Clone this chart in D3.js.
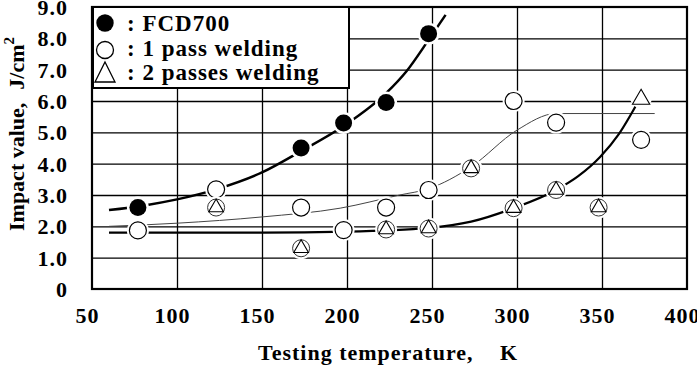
<!DOCTYPE html>
<html>
<head>
<meta charset="utf-8">
<script src="https://cdnjs.cloudflare.com/ajax/libs/d3/7.8.5/d3.min.js"></script>
<style>
  body { margin: 0; background: #fff; }
  text { font-family: "Liberation Serif", "Times New Roman", serif; font-weight: bold; fill: #000; }
</style>
</head>
<body>
<div id="chart"></div>
<script>
// tick values
const xTicks = [50, 100, 150, 200, 250, 300, 350, 400];
const yTicks = [0, 1, 2, 3, 4, 5, 6, 7, 8, 9];

// measured points (temperature K, impact value J/cm2)
const fcdTemp = [77, 173, 198, 223, 248];
const fcdVal = [2.6, 4.5, 5.3, 5.95, 8.15];
const pass1Temp = [77, 123, 173, 198, 223, 248, 273, 298, 323, 373];
const pass1Val = [1.87, 3.18, 2.6, 1.88, 2.6, 3.16, 3.85, 6.0, 5.31, 4.76];
const pass2Temp = [123, 173, 223, 248, 273, 298, 323, 348, 373];
const pass2Val = [2.6, 1.3, 1.9, 1.93, 3.85, 2.58, 3.16, 2.6, 6.12];
const pass2Ringed = [true, true, true, true, true, true, true, true, false];

// hand drawn trend curves
const fcdCurveTemp = [60, 80, 100, 123, 150, 173, 198, 223, 235, 248, 258];
const fcdCurveVal = [2.52, 2.66, 2.86, 3.18, 3.72, 4.4, 5.2, 6.25, 6.95, 7.95, 8.75];
const pass1CurveTemp = [60, 100, 150, 196, 231, 248, 273, 300, 323, 381];
const pass1CurveVal = [2.0, 2.1, 2.3, 2.58, 3.0, 3.2, 3.9, 5.07, 5.6, 5.6];
const pass2CurveTemp = [60, 150, 200, 248, 273, 298, 323, 336, 349, 360, 371];
const pass2CurveVal = [1.8, 1.8, 1.83, 1.95, 2.15, 2.58, 3.16, 3.6, 4.22, 4.95, 5.95];

const legendLabels = [": FCD700", ": 1 pass welding", ": 2 passes welding"];

const W = 697, H = 385;
const svg = d3.select("#chart").append("svg")
    .attr("width", W).attr("height", H);
svg.append("rect").attr("width", W).attr("height", H).attr("fill", "#fff");

const x = d3.scaleLinear().domain([50, 400]).range([92, 687]);
const y = d3.scaleLinear().domain([0, 9]).range([289, 7]);

// grid
svg.append("g")
    .attr("transform", `translate(0,${y(0)})`)
    .call(d3.axisBottom(x).tickValues(xTicks.slice(1, -1)).tickSize(-(y(0) - y(9))).tickFormat(""))
    .call(g => g.select(".domain").remove())
    .selectAll("line").attr("stroke", "#000").attr("stroke-width", 1.3);
svg.append("g")
    .attr("transform", `translate(${x(50)},0)`)
    .call(d3.axisLeft(y).tickValues(yTicks.slice(1, -1)).tickSize(-(x(400) - x(50))).tickFormat(""))
    .call(g => g.select(".domain").remove())
    .selectAll("line").attr("stroke", "#000").attr("stroke-width", 1.3);

svg.append("rect")
    .attr("x", x(50)).attr("y", y(9))
    .attr("width", x(400) - x(50)).attr("height", y(0) - y(9))
    .attr("fill", "none").attr("stroke", "#000").attr("stroke-width", 2.2);

// tick labels
const xAx = svg.append("g")
    .attr("transform", `translate(0,${y(0)})`)
    .call(d3.axisBottom(x).tickValues(xTicks).tickSize(0).tickPadding(0).tickFormat(d3.format("d")));
xAx.select(".domain").remove();
xAx.selectAll("text")
    .attr("dx", -5).attr("y", 34).attr("dy", 0)
    .style("font-size", "22px").style("letter-spacing", "1px")
    .style("font-family", "Liberation Serif").style("font-weight", "bold");

const yAx = svg.append("g")
    .attr("transform", `translate(68,0)`)
    .call(d3.axisLeft(y).tickValues(yTicks).tickSize(0).tickPadding(0)
        .tickFormat(d => d === 0 ? "0" : d3.format(".1f")(d)));
yAx.select(".domain").remove();
yAx.selectAll("text")
    .attr("x", 0).attr("dy", "0.34em")
    .style("font-size", "22px").style("letter-spacing", "1px")
    .style("font-family", "Liberation Serif").style("font-weight", "bold");

// axis titles
svg.append("text")
    .attr("x", 258).attr("y", 360)
    .style("font-size", "22px").style("letter-spacing", "1px")
    .text("Testing temperature,")
  .append("tspan").attr("x", 500).text("K");

const yt = svg.append("text")
    .attr("transform", "translate(24,231) rotate(-90)")
    .style("font-size", "22px");
yt.append("tspan").text("Impact value,");
yt.append("tspan").attr("dx", 13).text("J/cm");
yt.append("tspan").attr("dy", -10).style("font-size", "15px").text("2");

// trend curves
const line = d3.line().x(d => x(d[0])).y(d => y(d[1])).curve(d3.curveMonotoneX);
const zip = (a, b) => a.map((v, i) => [v, b[i]]);
svg.append("path").datum(zip(pass1CurveTemp, pass1CurveVal))
    .attr("d", line).attr("fill", "none").attr("stroke", "#444").attr("stroke-width", 1);
svg.append("path").datum(zip(pass2CurveTemp, pass2CurveVal))
    .attr("d", line).attr("fill", "none").attr("stroke", "#000").attr("stroke-width", 2.2);
svg.append("path").datum(zip(fcdCurveTemp, fcdCurveVal))
    .attr("d", line).attr("fill", "none").attr("stroke", "#000").attr("stroke-width", 2.5);

// markers
const R = 8.5;
const tri = r => `M0,${-r}L${r * 0.866},${r * 0.5}L${-r * 0.866},${r * 0.5}Z`;

const p1 = svg.append("g").selectAll("g").data(zip(pass1Temp, pass1Val)).join("g")
    .attr("transform", d => `translate(${x(d[0])},${y(d[1])})`);
p1.append("circle").attr("r", R + 2.5).attr("fill", "#fff");
p1.append("circle").attr("r", R).attr("fill", "#fff").attr("stroke", "#000").attr("stroke-width", 1.2);

const p2 = svg.append("g").selectAll("g").data(zip(pass2Temp, pass2Val)).join("g")
    .attr("transform", d => `translate(${x(d[0])},${y(d[1])})`);
p2.append("circle").attr("r", R + 2.5).attr("fill", "#fff");
p2.filter((d, i) => pass2Ringed[i])
    .append("circle").attr("r", R).attr("fill", "#fff").attr("stroke", "#333").attr("stroke-width", 1);
p2.append("path").attr("d", (d, i) => tri(pass2Ringed[i] ? R : 10))
    .attr("transform", (d, i) => pass2Ringed[i] ? "" : "translate(0,2)")
    .attr("fill", "#fff").attr("stroke", "#000").attr("stroke-width", 1.1);

const pf = svg.append("g").selectAll("g").data(zip(fcdTemp, fcdVal)).join("g")
    .attr("transform", d => `translate(${x(d[0])},${y(d[1])})`);
pf.append("circle").attr("r", R + 2.5).attr("fill", "#fff");
pf.append("circle").attr("r", R).attr("fill", "#000");

// legend
const lg = svg.append("g");
lg.append("rect").attr("x", 93).attr("y", 7).attr("width", 256).attr("height", 81)
    .attr("fill", "#fff").attr("stroke", "#000").attr("stroke-width", 2);
const rowY = [23, 50, 72];
const baseY = [31, 55.5, 80];
lg.append("circle").attr("cx", 105).attr("cy", rowY[0]).attr("r", 8.7).attr("fill", "#000");
lg.append("circle").attr("cx", 105).attr("cy", rowY[1]).attr("r", 8.5)
    .attr("fill", "#fff").attr("stroke", "#000").attr("stroke-width", 1.3);
lg.append("path").attr("d", "M105,62L115,82L95,82Z")
    .attr("fill", "#fff").attr("stroke", "#000").attr("stroke-width", 1.3);
lg.selectAll("text.lab").data(legendLabels).join("text")
    .attr("class", "lab")
    .attr("x", 127).attr("y", (d, i) => baseY[i])
    .style("font-size", "23px").style("letter-spacing", "1px")
    .text(d => d);
</script>
</body>
</html>
